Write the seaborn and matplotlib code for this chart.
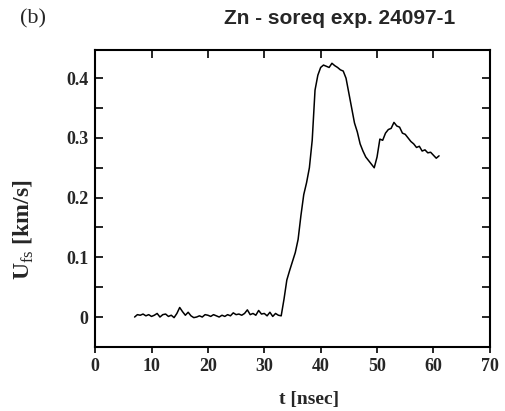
import matplotlib
matplotlib.use("Agg")
import matplotlib.pyplot as plt
import numpy as np
import pandas as pd
import seaborn as sns
from matplotlib.ticker import MultipleLocator

# time axis (nsec) and free-surface velocity (km/s)
t_ns = np.arange(7.0, 61.01, 0.5)
u_fs = [
    # 7.0 - 33.0 : flat baseline
    0.000, 0.004, 0.003, 0.005, 0.002, 0.004, 0.001, 0.003, 0.006, 0.000,
    0.004, 0.005, 0.001, 0.003, -0.001, 0.006, 0.016, 0.009, 0.003, 0.008,
    0.002, -0.001, 0.000, 0.002, 0.000, 0.004, 0.003, 0.001, 0.004, 0.002,
    0.000, 0.003, 0.001, 0.004, 0.002, 0.007, 0.004, 0.005, 0.003, 0.006,
    0.012, 0.004, 0.006, 0.003, 0.011, 0.005, 0.006, 0.002, 0.008, 0.001,
    0.006, 0.003, 0.002,
    # 33.5 - 40.0 : shock rise
    0.030, 0.062, 0.078, 0.093, 0.108, 0.130, 0.170, 0.205, 0.225, 0.250,
    0.296, 0.380, 0.405, 0.418,
    # 40.5 - 44.0 : plateau
    0.422, 0.420, 0.418, 0.425, 0.421, 0.418, 0.414, 0.412,
    # 44.5 - 49.5 : release
    0.400, 0.375, 0.350, 0.325, 0.310, 0.290, 0.278, 0.268, 0.262, 0.256,
    0.250,
    # 50.0 - 55.0 : spall signal
    0.268, 0.298, 0.296, 0.308, 0.314, 0.316, 0.326, 0.320, 0.318, 0.308,
    0.306,
    # 55.5 - 61.0
    0.300, 0.294, 0.290, 0.284, 0.286, 0.278, 0.280, 0.275, 0.276, 0.271,
    0.266, 0.270,
]
x_ticks = [0, 10, 20, 30, 40, 50, 60, 70]
y_ticks = [0, 0.1, 0.2, 0.3, 0.4]
y_ticklabels = ["0", "0.1", "0.2", "0.3", "0.4"]

df = pd.DataFrame({"t": t_ns, "u": u_fs})

sns.set_style("ticks")
plt.rcParams["font.family"] = ["Liberation Serif", "DejaVu Serif"]
plt.rcParams["mathtext.fontset"] = "custom"
plt.rcParams["mathtext.rm"] = "Liberation Serif"
plt.rcParams["mathtext.bf"] = "Liberation Serif:bold"

fig = plt.figure(figsize=(5.06, 4.11), dpi=100)
ax = fig.add_axes([0.188, 0.156, 0.780, 0.722])

sns.lineplot(data=df, x="t", y="u", color="black", linewidth=1.1, ax=ax)

ax.set_xlim(0, 70)
ax.set_ylim(-0.05, 0.447)
ax.set_xticks(x_ticks)
ax.set_yticks(y_ticks)
ax.set_yticklabels(y_ticklabels)
ax.yaxis.set_minor_locator(MultipleLocator(0.05))
ax.tick_params(axis="y", which="both", direction="in", length=6, width=1.2,
               color="black", left=True, right=True, labelsize=13, pad=5)
# bottom ticks point outward, top ticks inward
ax.tick_params(axis="x", direction="out", length=4, width=1.2, color="black",
               top=False, labelsize=13, pad=4)
top = ax.secondary_xaxis("top")
top.set_xticks(x_ticks)
top.tick_params(direction="in", length=6, width=1.2, color="black", labeltop=False)
top.spines["top"].set_visible(False)
for lab in ax.get_xticklabels() + ax.get_yticklabels():
    lab.set_fontweight("bold")
for sp in ax.spines.values():
    sp.set_visible(True)
    sp.set_linewidth(1.5)
    sp.set_color("black")

ax.set_xlabel("")
ax.set_ylabel("")
fig.text(0.611, 0.027, "t [nsec]", ha="center", va="center",
         fontsize=14, fontweight="bold")
fig.text(0.048, 0.44, r"U$_{\mathrm{fs}}$ [km/s]", ha="center", va="center",
         rotation=90, fontsize=17, fontweight="bold")

fig.text(0.672, 0.955, "Zn - soreq exp. 24097-1", ha="center", va="center",
         fontsize=15, fontweight="bold", family="Liberation Sans")
fig.text(0.04, 0.955, "(b)", ha="left", va="center", fontsize=16)

fig.savefig("out.png", dpi=100)
